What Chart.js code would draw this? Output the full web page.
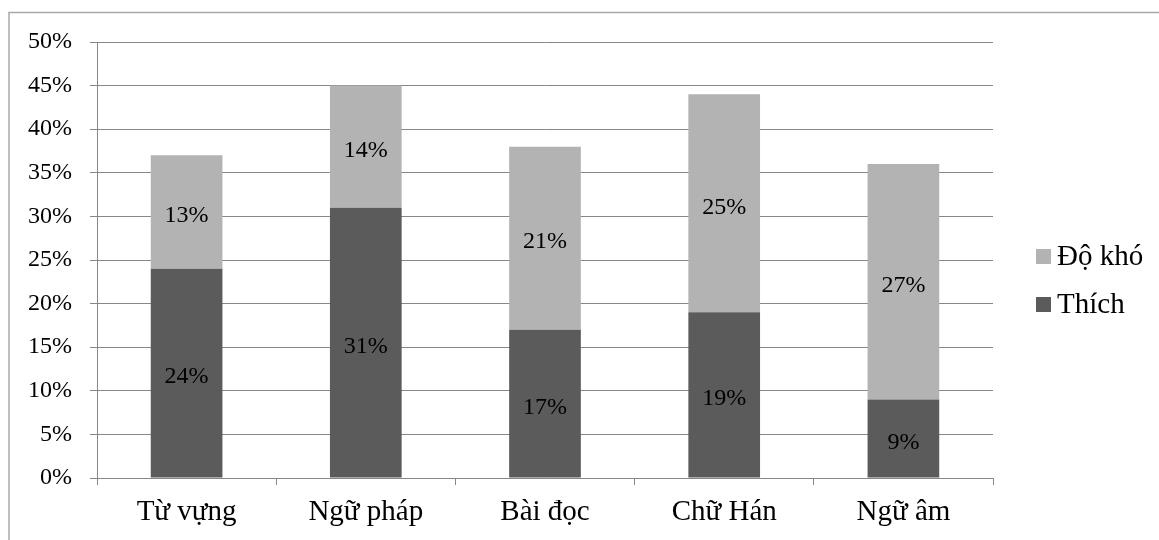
<!DOCTYPE html>
<html>
<head>
<meta charset="utf-8">
<script src="https://cdn.jsdelivr.net/npm/chart.js@4"></script>
<style>
  html, body { margin: 0; padding: 0; background: #fff; }
  #wrap { position: relative; width: 1159px; height: 540px; }
  canvas { display: block; }
</style>
</head>
<body>
<div id="wrap"><canvas id="c" width="1159" height="540"></canvas></div>
<script>
const categories = ['Từ vựng', 'Ngữ pháp', 'Bài đọc', 'Chữ Hán', 'Ngữ âm'];
const thich = [24, 31, 17, 19, 9];
const doKho = [13, 14, 21, 25, 27];
const yTicks = [0, 5, 10, 15, 20, 25, 30, 35, 40, 45, 50];

const SERIF = '"Liberation Serif", "Times New Roman", serif';
const GRID = '#878787';

// Outer frame of the chart object (only top and left edges fall inside the page)
const framePlugin = {
  id: 'frame',
  beforeDraw(chart) {
    const ctx = chart.ctx;
    ctx.save();
    ctx.strokeStyle = '#a9a9a9';
    ctx.lineWidth = 1.5;
    ctx.beginPath();
    ctx.moveTo(9, 560);
    ctx.lineTo(9, 12.5);
    ctx.lineTo(1170, 12.5);
    ctx.stroke();
    ctx.restore();
  }
};

// Percentage printed in the middle of each bar segment
const valueLabels = {
  id: 'valueLabels',
  afterDatasetsDraw(chart) {
    const ctx = chart.ctx;
    ctx.save();
    ctx.font = '24px ' + SERIF;
    ctx.fillStyle = '#000';
    ctx.textAlign = 'center';
    ctx.textBaseline = 'middle';
    chart.data.datasets.forEach((ds, di) => {
      const meta = chart.getDatasetMeta(di);
      meta.data.forEach((bar, i) => {
        const y = (bar.y + bar.base) / 2;
        ctx.fillText(ds.data[i] + '%', bar.x, y + 4);
      });
    });
    ctx.restore();
  }
};

// Legend on the right, upper series listed first
const sideLegend = {
  id: 'sideLegend',
  afterDraw(chart) {
    const ctx = chart.ctx;
    const items = chart.data.datasets.slice().reverse();
    ctx.save();
    ctx.font = '29px ' + SERIF;
    ctx.textBaseline = 'middle';
    ctx.textAlign = 'left';
    items.forEach((ds, k) => {
      const cy = 256.5 + k * 48;
      ctx.fillStyle = ds.backgroundColor;
      ctx.fillRect(1036, cy - 7.5, 15, 15);
      ctx.fillStyle = '#000';
      ctx.fillText(ds.label, 1057, cy + 1);
    });
    ctx.restore();
  }
};

new Chart(document.getElementById('c'), {
  type: 'bar',
  data: {
    labels: categories,
    datasets: [
      { label: 'Thích', data: thich, backgroundColor: '#5b5b5b', categoryPercentage: 1, barPercentage: 0.4 },
      { label: 'Độ khó', data: doKho, backgroundColor: '#b3b3b3', categoryPercentage: 1, barPercentage: 0.4 }
    ]
  },
  options: {
    responsive: false,
    animation: false,
    devicePixelRatio: 1,
    layout: { padding: { left: 0, right: 166, top: 42, bottom: 0 } },
    plugins: { legend: { display: false }, tooltip: { enabled: false } },
    scales: {
      x: {
        stacked: true,
        offset: true,
        grid: { display: true, drawOnChartArea: false, drawTicks: true, tickLength: 7, color: GRID, offset: true },
        border: { display: true, color: GRID },
        ticks: { color: '#000', font: { family: SERIF, size: 29 }, padding: 10, maxRotation: 0 },
        afterFit(s) { s.height = 62; }
      },
      y: {
        stacked: true,
        min: 0,
        max: 50,
        afterBuildTicks(s) { s.ticks = yTicks.map(v => ({ value: v })); },
        grid: { color: GRID, tickLength: 7 },
        border: { display: true, color: GRID },
        ticks: { color: '#000', font: { family: SERIF, size: 24 }, padding: 18, callback: v => v + '%' },
        afterFit(s) { s.width = 97; }
      }
    }
  },
  plugins: [framePlugin, valueLabels, sideLegend]
});
</script>
</body>
</html>
